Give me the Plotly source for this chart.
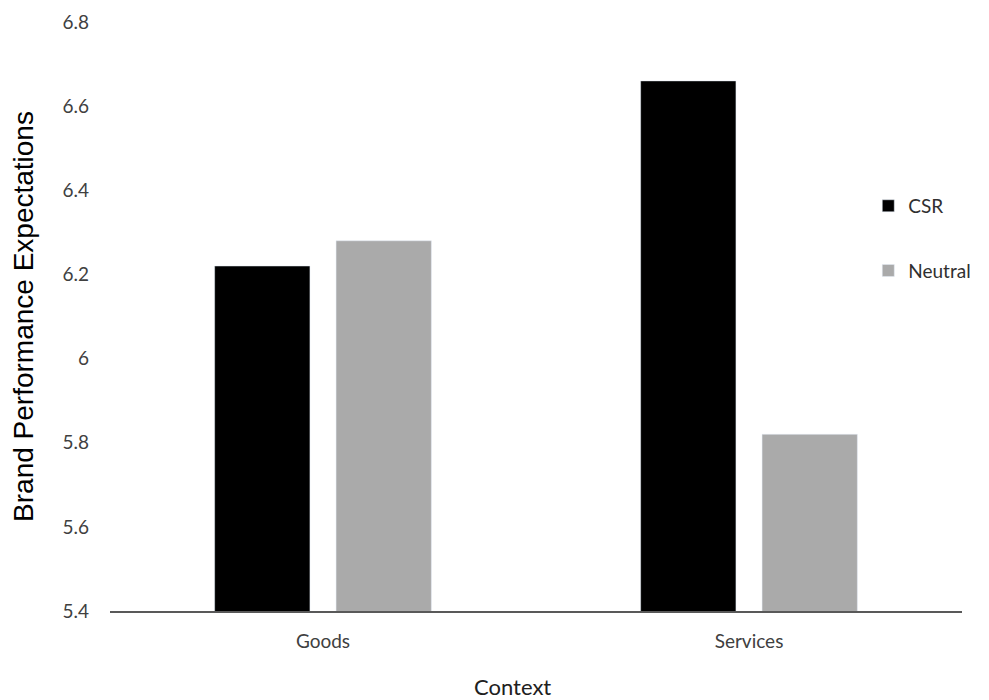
import plotly.graph_objects as go

categories = ["Goods", "Services"]
csr_values = [6.22, 6.66]
neutral_values = [6.28, 5.82]
y_ticks = [5.4, 5.6, 5.8, 6.0, 6.2, 6.4, 6.6, 6.8]
y_tick_labels = ["5.4", "5.6", "5.8", "6", "6.2", "6.4", "6.6", "6.8"]

tick_font = dict(family="Lato, Open Sans, sans-serif", size=19, color="#404040")

fig = go.Figure()
fig.add_trace(go.Bar(name="CSR", x=categories, y=csr_values,
                     marker=dict(color="#000000"), legendgroup="a"))
fig.add_trace(go.Bar(name="Neutral", x=categories, y=neutral_values,
                     marker=dict(color="#AAAAAA"), legendgroup="b"))

fig.update_layout(
    width=989, height=700,
    margin=dict(l=110, r=27, t=22, b=89, autoexpand=False),
    paper_bgcolor="white", plot_bgcolor="white",
    barmode="group", bargap=0.43, bargroupgap=0.215,
    showlegend=True,
    legend=dict(x=0.89, xanchor="left", y=0.72, yanchor="top",
                font=dict(family="Lato, Open Sans, sans-serif", size=19, color="#303030"),
                tracegroupgap=37, itemwidth=30, bgcolor="rgba(0,0,0,0)"),
    xaxis=dict(
        showline=True, linecolor="#595959", linewidth=1.5,
        ticks="", tickfont=tick_font, ticklabelstandoff=12,
    ),
    yaxis=dict(
        range=[5.4, 6.8], tickvals=y_ticks, ticktext=y_tick_labels,
        showgrid=False, zeroline=False, showline=False, ticks="",
        tickfont=tick_font, ticklabelstandoff=20,
        title=dict(text="Brand Performance Expectations", standoff=20,
                   font=dict(family="Liberation Sans, Arial, sans-serif", size=28, color="#000000")),
    ),
    annotations=[dict(text="Context", xref="paper", yref="paper",
                      x=0.473, y=-0.128, xanchor="center", yanchor="middle",
                      showarrow=False,
                      font=dict(family="Lato, Open Sans, sans-serif", size=22, color="#202020"))],
)

fig.write_html("out.html")
